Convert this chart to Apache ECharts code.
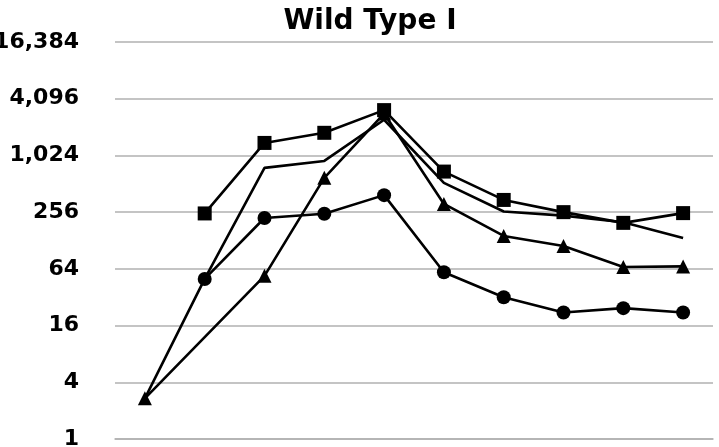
<!DOCTYPE html>
<html>
<head>
<meta charset="utf-8">
<script src="https://cdn.jsdelivr.net/npm/echarts@6/dist/echarts.min.js"></script>
<style>
  html, body { margin: 0; padding: 0; background: #fff; }
  #chart { width: 719px; height: 447px; }
</style>
</head>
<body>
<div id="chart"></div>
<script>
const categories = ['1', '2', '3', '4', '5', '6', '7', '8', '9', '10'];
const squareValues = [null, 248, 1390, 1780, 3100, 690, 345, 256, 197, 250];
const circleValues = [null, 50, 222, 246, 388, 59, 32, 22, 24.5, 22];
const triangleValues = [2.7, null, 54, 592, 2850, 313, 143, 112, 67, 68];
const plainValues = [2.7, 50, 755, 895, 2450, 523, 260, 235, 200, 136];

const chart = echarts.init(document.getElementById('chart'));

const lineSeries = (data, symbol, z) => ({
  type: 'line',
  data: data,
  symbol: symbol,
  symbolSize: symbol === 'none' ? 0 : 14,
  showSymbol: symbol !== 'none',
  connectNulls: true,
  z: z,
  lineStyle: { color: '#000', width: 2.6 },
  itemStyle: { color: '#000' },
});

const option = {
  animation: false,
  title: {
    text: 'Wild Type I',
    left: 365,
    top: 3,
    textAlign: 'center',
    textStyle: {
      fontFamily: 'DejaVu Sans',
      fontWeight: 'bold',
      fontSize: 28,
      color: '#000',
    },
  },
  grid: {
    left: 115,
    right: 6,
    top: 42,
    bottom: 8,
    outerBoundsMode: 'none',
    containLabel: false,
  },
  xAxis: {
    type: 'category',
    data: categories,
    axisLine: { lineStyle: { color: '#b0b0b0', width: 1.5 } },
    axisTick: { length: 10, lineStyle: { color: '#b0b0b0', width: 1.5 } },
    axisLabel: { show: false },
  },
  yAxis: {
    type: 'log',
    logBase: 4,
    min: 1,
    max: 16384,
    axisLine: { show: false },
    axisTick: { show: false },
    splitLine: { lineStyle: { color: '#b0b0b0', width: 1.5 } },
    axisLabel: {
      margin: 36,
      fontFamily: 'DejaVu Sans',
      fontWeight: 'bold',
      fontSize: 22,
      color: '#000',
      formatter: (v) => Math.round(v).toLocaleString('en-US'),
    },
  },
  series: [
    lineSeries(plainValues, 'none', 2),
    lineSeries(triangleValues, 'triangle', 3),
    lineSeries(circleValues, 'circle', 4),
    lineSeries(squareValues, 'rect', 5),
  ],
};

chart.setOption(option);
</script>
</body>
</html>
